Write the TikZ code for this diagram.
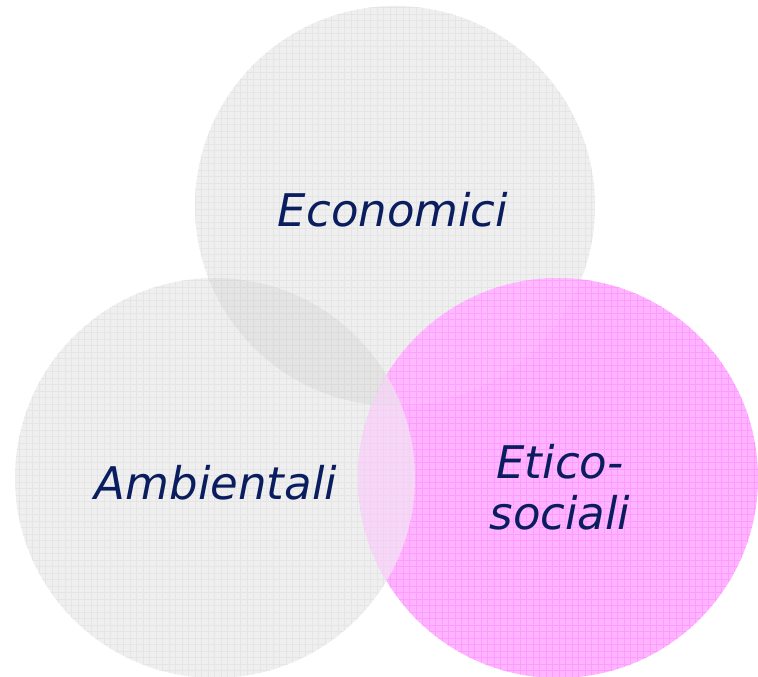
\documentclass[tikz,border=0pt]{standalone}
\usepackage{fontspec}
\setmainfont{DejaVu Sans}
\definecolor{greyfill}{RGB}{239,239,239}
\definecolor{greyline}{RGB}{229,229,229}
\definecolor{pinkfill}{RGB}{255,180,255}
\definecolor{pinkline}{RGB}{255,155,255}
\definecolor{navytext}{RGB}{10,30,95}
\tikzset{
  label text/.style={font=\fontsize{45}{51}\selectfont\itshape, text=navytext, align=center, inner sep=0pt},
  grid line/.style={line width=0.6pt},
}
\begin{document}
\begin{tikzpicture}[x=1pt,y=1pt]
\useasboundingbox (0,0) rectangle (758,677);
\def\TopC{(395,471) circle (200)}
\def\LeftC{(215,199) circle (200)}
\def\RightC{(558,199) circle (200)}
% grey circles with grid texture
\fill[greyfill] \TopC;
\fill[greyfill] \LeftC;
\begin{scope}
  \clip \TopC \LeftC;
  \foreach \k in {0,...,118} {
    \draw[greyline, grid line] (\k*6.5,0) -- (\k*6.5,677);
    \draw[greyline, grid line] (0,\k*6.5) -- (758,\k*6.5);
  }
\end{scope}
% pink circle with grid texture
\fill[pinkfill] \RightC;
\begin{scope}
  \clip \RightC;
  \foreach \k in {0,...,118} {
    \draw[pinkline, grid line] (\k*6.5,0) -- (\k*6.5,677);
    \draw[pinkline, grid line] (0,\k*6.5) -- (758,\k*6.5);
  }
\end{scope}
% overlaps
\begin{scope}
  \clip \TopC; \fill[black, opacity=0.045] \LeftC;
\end{scope}
\begin{scope}
  \clip \LeftC; \fill[greyfill, opacity=0.62] \RightC;
\end{scope}
\begin{scope}
  \clip \TopC; \fill[white, opacity=0.08] \RightC;
\end{scope}
% labels
\node[label text] (eco) at (393,467) {Economici};
\node[label text] (amb) at (216,194) {Ambientali};
\node[label text] (eti) at (560,190) {Etico-\\sociali};
\end{tikzpicture}
\end{document}
